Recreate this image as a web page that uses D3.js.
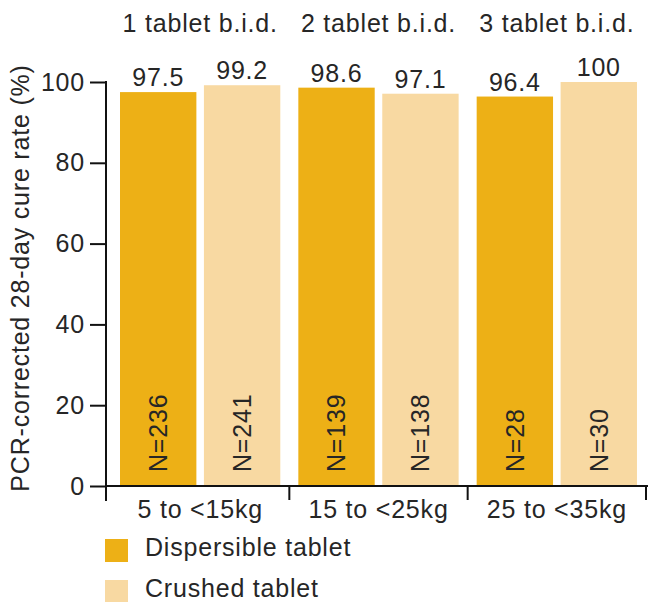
<!DOCTYPE html>
<html>
<head>
<meta charset="utf-8">
<script src="https://cdn.jsdelivr.net/npm/d3@7"></script>
<style>
  body { margin: 0; background: #fff; }
  svg text { font-family: "Liberation Sans", Arial, sans-serif; fill: #262626; letter-spacing: 0.8px; }
</style>
</head>
<body>
<svg id="chart" width="648" height="602"></svg>
<script>
// data
var groups = ["5 to <15kg", "15 to <25kg", "25 to <35kg"];
var doses = ["1 tablet b.i.d.", "2 tablet b.i.d.", "3 tablet b.i.d."];
var series = ["Dispersible tablet", "Crushed tablet"];
var dispersible = [97.5, 98.6, 96.4];
var crushed = [99.2, 97.1, 100];
var dispersibleN = [236, 139, 28];
var crushedN = [241, 138, 30];
var yTicks = [0, 20, 40, 60, 80, 100];

var colors = {"Dispersible tablet": "#edb016", "Crushed tablet": "#f8d9a2"};

var svg = d3.select("#chart"),
    fs = 25;

var y = d3.scaleLinear().domain([0, 100]).range([486, 82]);
var x0 = d3.scaleBand().domain(groups).range([111, 646]);
var x1 = d3.scaleBand().domain(series).range([9, 169.3]).paddingInner(0.09);

var rows = [];
groups.forEach(function(g, i) {
  rows.push({group: g, series: series[0], value: dispersible[i], n: dispersibleN[i]});
  rows.push({group: g, series: series[1], value: crushed[i], n: crushedN[i]});
});

// bars
var bars = svg.append("g").selectAll("g")
  .data(rows)
  .enter().append("g")
    .attr("transform", function(d) { return "translate(" + (x0(d.group) + x1(d.series)) + ",0)"; });

bars.append("rect")
  .attr("x", 0)
  .attr("width", x1.bandwidth())
  .attr("y", function(d) { return y(d.value); })
  .attr("height", function(d) { return y(0) - y(d.value); })
  .attr("fill", function(d) { return colors[d.series]; });

bars.append("text")
  .attr("x", x1.bandwidth() / 2)
  .attr("y", function(d) { return y(d.value) - 6; })
  .attr("text-anchor", "middle")
  .style("font-size", fs + "px")
  .text(function(d) { return String(d.value); });

bars.append("text")
  .attr("transform", "translate(" + (x1.bandwidth() / 2) + "," + (y(0) - 14) + ") rotate(-90)")
  .attr("dy", "0.35em")
  .style("font-size", fs + "px")
  .text(function(d) { return "N=" + d.n; });

// dose titles
svg.append("g").selectAll("text")
  .data(doses)
  .enter().append("text")
    .attr("x", function(d, i) { return x0(groups[i]) + x0.bandwidth() / 2; })
    .attr("y", 32)
    .attr("text-anchor", "middle")
    .style("font-size", fs + "px")
    .text(function(d) { return d; });

// y axis
var yAxis = svg.append("g")
  .attr("transform", "translate(106,0)")
  .call(d3.axisLeft(y).tickValues(yTicks).tickSize(16).tickSizeOuter(0).tickPadding(5));
yAxis.select(".domain").remove();
yAxis.selectAll("line").attr("stroke", "#111").attr("stroke-width", 2);
yAxis.selectAll("text")
  .attr("font-family", null).attr("font-size", null).attr("fill", null)
  .style("font-size", fs + "px");

svg.append("line")
  .attr("x1", 106).attr("x2", 106)
  .attr("y1", y(100) - 1).attr("y2", y(0) + 15)
  .attr("stroke", "#111").attr("stroke-width", 2);

svg.append("text")
  .attr("transform", "translate(29,278) rotate(-90)")
  .attr("text-anchor", "middle")
  .style("font-size", fs + "px")
  .text("PCR-corrected 28-day cure rate (%)");

// x axis
var xAxis = svg.append("g")
  .attr("transform", "translate(0," + y(0) + ")")
  .call(d3.axisBottom(x0).tickSize(0).tickPadding(14));
xAxis.select(".domain").attr("d", "M106,0H648").attr("stroke", "#111").attr("stroke-width", 2);
xAxis.selectAll("text")
  .attr("font-family", null).attr("font-size", null).attr("fill", null)
  .style("font-size", fs + "px");

svg.append("g").selectAll("line")
  .data(groups)
  .enter().append("line")
    .attr("x1", function(d) { return x0(d) + x0.step(); })
    .attr("x2", function(d) { return x0(d) + x0.step(); })
    .attr("y1", y(0)).attr("y2", y(0) + 14)
    .attr("stroke", "#111").attr("stroke-width", 2);

// legend
var legend = svg.append("g").selectAll("g")
  .data(series)
  .enter().append("g")
    .attr("transform", function(d, i) { return "translate(105," + (539 + i * 41) + ")"; });

legend.append("rect")
  .attr("width", 23).attr("height", 23)
  .attr("fill", function(d) { return colors[d]; });

legend.append("text")
  .attr("x", 40).attr("y", 17)
  .style("font-size", fs + "px")
  .text(function(d) { return d; });
</script>
</body>
</html>
